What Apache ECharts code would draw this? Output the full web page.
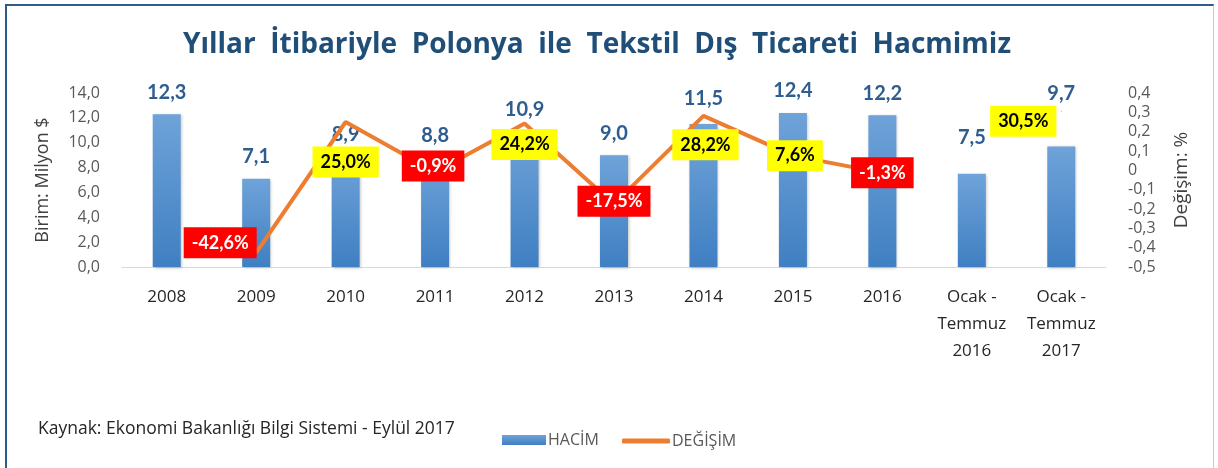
<!DOCTYPE html>
<html>
<head>
<meta charset="utf-8">
<script src="https://cdn.jsdelivr.net/npm/echarts@6/dist/echarts.min.js"></script>
<style>
  html, body { margin: 0; padding: 0; background: #fff; }
  #wrap { position: relative; width: 1218px; height: 468px; }
  #chart { position: absolute; left: 0; top: 0; width: 1218px; height: 468px; }
  #frame { position: absolute; left: 5px; top: 4px; width: 1209px; height: 470px;
           border-left: 2px solid #2f5b88; border-top: 2px solid #2f5b88; border-right: 1px solid #c9c9c9;
           pointer-events: none; box-sizing: border-box; }
</style>
</head>
<body>
<div id="wrap">
  <div id="chart"></div>
  <div id="frame"></div>
</div>
<script>
const titleText = 'Yıllar  İtibariyle  Polonya  ile  Tekstil  Dış  Ticareti  Hacmimiz';
const sourceText = 'Kaynak: Ekonomi Bakanlığı Bilgi Sistemi - Eylül 2017';
const categories = ['2008', '2009', '2010', '2011', '2012', '2013', '2014', '2015', '2016',
                    'Ocak -\nTemmuz\n2016', 'Ocak -\nTemmuz\n2017'];
const volumeValues = [12.3, 7.1, 8.9, 8.8, 10.9, 9.0, 11.5, 12.4, 12.2, 7.5, 9.7];
const changeValues = [null, -0.426, 0.250, -0.009, 0.242, -0.175, 0.282, 0.076, -0.013, null, 0.305];
const seriesNames = ['HACİM', 'DEĞİŞİM'];
const leftAxisName = 'Birim: Milyon $';
const rightAxisName = 'Değişim: %';

// label placement tweaks (styles, not data)
const barLabelExtraOffset = [0, 0, 0, 0, 0, 0, -4, 0, 0, -14, -31];
const lineLabelOffsets = [[0,0], [-36,-10], [0,40], [-2,-6], [0,21], [0,-3], [2,29], [2,0], [0,0], [0,0], [-38,10]];

const FONT = '"Open Sans", Lato, sans-serif';
const LFONT = 'Lato, "Open Sans", sans-serif';
const comma = (s) => s.replace('.', ',');

const barData = volumeValues.map((v, i) => ({
  value: v,
  label: { offset: [0, barLabelExtraOffset[i]] }
}));

const lineData = changeValues.map((v, i) => {
  if (v === null) return null;
  const neg = v < 0;
  return {
    value: v,
    label: {
      offset: lineLabelOffsets[i],
      backgroundColor: neg ? '#ff0000' : '#ffff00',
      color: neg ? '#ffffff' : '#000000'
    }
  };
});

const chart = echarts.init(document.getElementById('chart'), null, { renderer: 'canvas' });
chart.setOption({
  backgroundColor: '#ffffff',
  animation: false,
  title: {
    text: titleText,
    left: 592, top: 26, textAlign: 'center',
    textStyle: { fontFamily: FONT, fontWeight: 'bold', fontSize: 28, color: '#1f4e79' }
  },
  graphic: [{
    type: 'text', left: 38, top: 420,
    style: { text: sourceText, fontFamily: FONT, fontSize: 17.5, fill: '#262626' }
  }],
  legend: [{
    data: [seriesNames[0]], left: 497, top: 427,
    itemWidth: 44, itemHeight: 10, icon: 'rect', itemGap: 4,
    textStyle: { fontFamily: FONT, fontSize: 16, color: '#595959', padding: [0, 0, 0, -3] }
  }, {
    data: [{ name: seriesNames[1], icon: 'roundRect' }], left: 617, top: 428,
    itemWidth: 48, itemHeight: 5,
    textStyle: { fontFamily: FONT, fontSize: 16, color: '#595959', padding: [0, 0, 0, -3] }
  }],
  grid: { left: 122, right: 112, top: 93, bottom: 201, containLabel: false },
  xAxis: {
    type: 'category', data: categories,
    axisLine: { lineStyle: { color: '#d9d9d9', width: 1 } },
    axisTick: { show: false },
    axisLabel: { interval: 0, margin: 17, fontFamily: FONT, fontSize: 17, color: '#262626', lineHeight: 27 }
  },
  yAxis: [{
    type: 'value', min: 0, max: 14, interval: 2,
    name: leftAxisName, nameLocation: 'middle', nameGap: 70, nameRotate: 90,
    nameTextStyle: { fontFamily: FONT, fontSize: 18, color: '#404040' },
    splitLine: { show: false }, axisLine: { show: false }, axisTick: { show: false },
    axisLabel: { margin: 22, fontFamily: FONT, fontSize: 16, color: '#595959',
                 formatter: (v) => comma(v.toFixed(1)) }
  }, {
    type: 'value', min: -0.5, max: 0.4, interval: 0.1,
    name: rightAxisName, nameLocation: 'middle', nameGap: 66, nameRotate: 90,
    nameTextStyle: { fontFamily: FONT, fontSize: 19, color: '#404040' },
    splitLine: { show: false }, axisLine: { show: false }, axisTick: { show: false },
    axisLabel: { margin: 22, fontFamily: FONT, fontSize: 16, color: '#595959',
                 formatter: (v) => Math.abs(v) < 1e-9 ? '0' : comma(v.toFixed(1)) }
  }],
  series: [{
    name: seriesNames[0], type: 'bar', yAxisIndex: 0, barWidth: 28,
    data: barData,
    itemStyle: {
      color: new echarts.graphic.LinearGradient(0, 0, 0, 1, [
        { offset: 0, color: '#6fa3d9' }, { offset: 1, color: '#3f7fc2' }
      ]),
      shadowBlur: 3, shadowColor: 'rgba(0,0,0,0.25)', shadowOffsetX: 1, shadowOffsetY: 1
    },
    label: {
      show: true, position: 'top', distance: 12,
      fontFamily: LFONT, fontWeight: 'bold', fontSize: 20, color: '#2e5d8f',
      formatter: (p) => comma(p.value.toFixed(1))
    }
  }, {
    name: seriesNames[1], type: 'line', yAxisIndex: 1,
    data: lineData, connectNulls: false,
    symbol: 'circle', symbolSize: 1,
    itemStyle: { color: '#ed7d31' },
    lineStyle: { color: '#ed7d31', width: 4 },
    z: 3,
    label: {
      show: true, position: 'inside',
      fontFamily: LFONT, fontWeight: 'bold', fontSize: 18,
      padding: [7, 8, 6, 8],
      formatter: (p) => comma((p.value * 100).toFixed(1)) + '%'
    }
  }]
});
</script>
</body>
</html>
